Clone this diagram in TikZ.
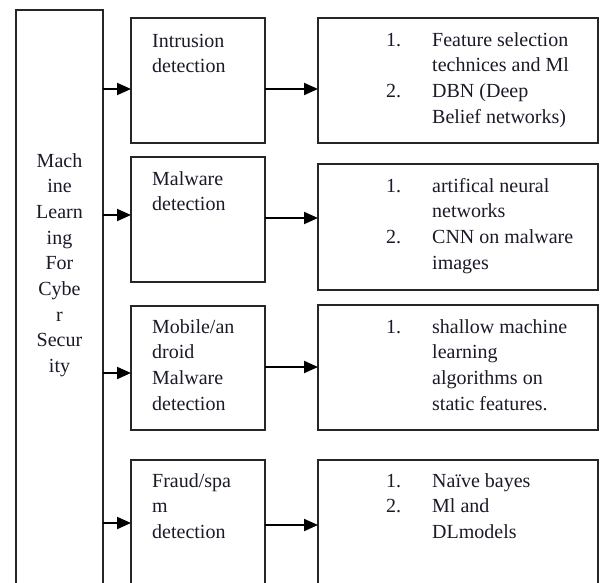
\documentclass[tikz,border=0pt]{standalone}
\usepackage{fontspec}
\setmainfont{Liberation Serif}
\usetikzlibrary{arrows.meta,calc}
\definecolor{inkc}{HTML}{1A1A28}
\definecolor{linec}{HTML}{262626}
\tikzset{
  box/.style={draw=linec, line width=1.5pt, rectangle, inner sep=0pt, outer sep=0pt, anchor=north west},
  midbox/.style={box, minimum width=134pt},
  resbox/.style={box, minimum width=280pt},
  txt/.style={anchor=base west, inner sep=0pt, text=inkc, font=\fontsize{20}{25.7}\selectfont},
  ctxt/.style={txt, anchor=base},
  arr/.style={draw=black, line width=2pt, -{Triangle[length=14pt,width=12pt]}}
}
\newcommand{\stack}[1]{\begin{tabular}[t]{@{}c@{}}#1\end{tabular}}
\newcommand{\leftstack}[1]{\begin{tabular}[t]{@{}l@{}}#1\end{tabular}}
\newcommand{\numlist}[1]{\begin{tabular}[t]{@{}p{46pt}@{}l@{}}#1\end{tabular}}
\begin{document}
\begin{tikzpicture}[x=1pt,y=-1pt]
\useasboundingbox (0,0) rectangle (600,582);
\clip (0,0) rectangle (600,582);

% main column
\node[box, minimum width=87pt, minimum height=640pt] (ml) at (16,10) {};
\node[ctxt] (mltext) at (59.5,167) {\stack{Mach\\ine\\Learn\\ing\\For\\Cybe\\r\\Secur\\ity}};

% application areas
\node[midbox, minimum height=125pt] (d1) at (131,18) {};
\node[midbox, minimum height=125pt] (d2) at (131,157) {};
\node[midbox, minimum height=124pt] (d3) at (131,306) {};
\node[midbox, minimum height=200pt] (d4) at (131,460) {};

\node[txt] (d1t) at (152,47) {\leftstack{Intrusion\\detection}};
\node[txt] (d2t) at (152,185) {\leftstack{Malware\\detection}};
\node[txt] (d3t) at (152,333) {\leftstack{Mobile/an\\droid\\Malware\\detection}};
\node[txt] (d4t) at (152,487) {\leftstack{Fraud/spa\\m\\detection}};

% techniques
\node[resbox, minimum height=125pt] (r1) at (318,18) {};
\node[resbox, minimum height=126pt] (r2) at (318,164) {};
\node[resbox, minimum height=125pt] (r3) at (318,305) {};
\node[resbox, minimum height=200pt] (r4) at (318,460) {};

\node[txt] (r1t) at (386,46) {\numlist{1. & Feature selection\\ & technices and Ml\\ 2. & DBN (Deep\\ & Belief networks)}};
\node[txt] (r2t) at (386,192) {\numlist{1. & artifical neural\\ & networks\\ 2. & CNN on malware\\ & images}};
\node[txt] (r3t) at (386,333) {\numlist{1. & shallow machine\\ & learning\\ & algorithms on\\ & static features.}};
\node[txt] (r4t) at (386,487) {\numlist{1. & Naïve bayes\\ 2. & Ml and\\ & DLmodels}};

% arrow entry points on the box edges
\coordinate (a1) at ($(d1.north west)+(0,71)$);
\coordinate (a2) at ($(d2.north west)+(0,58)$);
\coordinate (a3) at ($(d3.north west)+(0,67)$);
\coordinate (a4) at ($(d4.north west)+(0,63)$);
\coordinate (b1) at ($(r1.north west)+(0,71)$);
\coordinate (b2) at ($(r2.north west)+(0,54)$);
\coordinate (b3) at ($(r3.north west)+(0,62)$);
\coordinate (b4) at ($(r4.north west)+(0,65)$);

\foreach \i in {1,...,4} {
  \draw[arr] (ml.east |- a\i) -- (a\i);
  \draw[arr] (d\i.east |- b\i) -- (b\i);
}
\end{tikzpicture}
\end{document}
